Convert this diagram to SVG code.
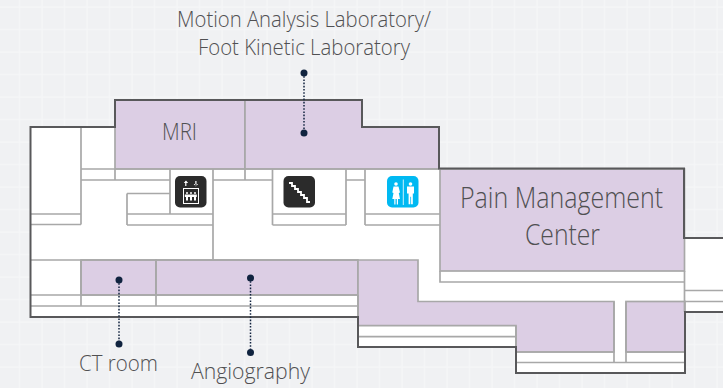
<svg xmlns="http://www.w3.org/2000/svg" width="723" height="388" viewBox="0 0 723 388">
<style>
.r{fill:#dccee4;stroke:#a8a8a8;stroke-width:1.700}
.w{fill:none;stroke:#a8a8a8;stroke-width:1.700}
.o{fill:none;stroke:#58585a;stroke-width:2}
.t{font-family:"Open Sans","Noto Sans",sans-serif;font-weight:300;fill:#505052;text-anchor:middle}
.c{stroke:#10233f;stroke-width:1.500;stroke-dasharray:1.600 1.600;fill:none}
.d{fill:#10233f}
.ic{fill:#fff}
</style>
<defs>
<pattern id="g" width="22.5" height="22.5" patternUnits="userSpaceOnUse" x="8.500" y="-4">
<rect width="22.5" height="22.5" fill="#f0f1f3"/>
<path d="M11 0V22.5M0 11H22.5" stroke="#f5f6f7" stroke-width="1.500" fill="none"/>
</pattern>
</defs>
<rect width="723" height="388" fill="url(#g)"/>
<path id="floor" fill="#fff" d="M30.500 127H115V100H362V127H439V169H684V238H723V312H685V373H516V347H358V317H30.500Z"/>
<g id="room-mri"><path class="r" d="M115 127V100H245V169H115Z"/><text class="t" x="179.500" y="140" font-size="23" textLength="35" lengthAdjust="spacingAndGlyphs">MRI</text></g>
<g id="room-motion-analysis"><path class="r" d="M245 100H362V127H439V169H245Z"/></g>
<g id="room-pain-management"><rect class="r" x="440" y="169" width="244.500" height="102"/><text class="t" x="561.500" y="208" font-size="29" textLength="203" lengthAdjust="spacingAndGlyphs">Pain Management</text><text class="t" x="562.500" y="245" font-size="29" textLength="75" lengthAdjust="spacingAndGlyphs">Center</text></g>
<g id="room-ct"><rect class="r" x="81" y="260" width="75" height="35"/></g>
<g id="room-angiography"><rect class="r" x="156" y="260" width="202" height="35"/></g>
<g id="room-east"><path class="r" d="M358 260H418V301.500H614V352H516V325.700H358Z"/></g>
<g id="room-far-east"><rect class="r" x="626" y="301.500" width="59" height="50.500"/></g>
<g id="walls">
<path class="w" d="M81 127V224.500M30.500 214H81M30.500 224.500H81M81 169V180M81 180H170M115 169V180M245 169V180M170 169V214M127 193.500H170M127 193.500V225M127 214H213M127 225H213V169M213 225V260M213 180H272.500M272.500 169V225M346 169V225M272.500 214H346M272.500 225H346M346 180H365M365 169V225M365 214H440M365 225H440M81 169H440M440 271V282H684.500M684.500 271V312M30.500 260H358M81 260V306M156 260V306M30.500 295H358M30.500 306H358M358 295V317M358 325.700V347M358 336.700H516M516 325.700V373M516 352H614M516 362.500H685M614 301.500V362.500M626 301.500V362.500M626 352H685M685 290.500H723M685 301.500H723"/>
</g>
<path id="outline" class="o" d="M723 238H684V168.500H439V127H362V100H115V127H30.500V317H358V347H516V373H685V312H723"/>
<g id="icon-elevator">
<rect x="175" y="176" width="31.500" height="31.500" rx="5" fill="#2b2b2b"/>
<path class="ic" d="M185.200 181h1.200v5h-1.200zM183.800 183l2.200-2.500 2.200 2.500zM195.300 181h1.200v5h-1.200zM193.700 184l2.200 2.500 2.200-2.500z"/>
<rect x="183.500" y="188.500" width="15" height="15" fill="none" stroke="#fff" stroke-width="1"/>
<circle class="ic" cx="187" cy="193" r="1"/><circle class="ic" cx="191" cy="193" r="1"/><circle class="ic" cx="195" cy="193" r="1"/>
<path class="ic" d="M186 194.500h2v6h-2zM190 194.500h2v6h-2zM194 194.500h2v6h-2zM184.800 194.500h12v2.500h-12z"/>
</g>
<g id="icon-stairs">
<rect x="283.500" y="176" width="31.500" height="31.500" rx="5" fill="#2b2b2b"/>
<path d="M289 183H292V186H295V189H298V192H301V195H304V198H307V202H310" fill="none" stroke="#fff" stroke-width="1.800"/>
</g>
<g id="icon-restroom">
<rect x="387" y="176" width="31.500" height="31.500" rx="5" fill="#00b9f2"/>
<path d="M403.300 179.500V205" stroke="#fff" stroke-width="0.800" fill="none"/>
<circle class="ic" cx="396" cy="184" r="1.800"/>
<path class="ic" d="M393.500 186.500h5l1.500 6-1.200.4 1.200 6h-2v5.500h-1.200v-5.500h-1.300v5.500h-1.200v-5.500h-2l1.200-6-1.200-.4z"/>
<circle class="ic" cx="410.500" cy="184" r="1.800"/>
<path class="ic" d="M407 186.500h7v7h-1.200v10.800h-1.700v-7.500h-.8v7.500h-1.700V193.500H407z"/>
</g>
<g id="connectors">
<path class="c" d="M304 73V133"/><circle class="d" cx="304" cy="73" r="3.500"/><circle class="d" cx="304" cy="133" r="3.500"/>
<path class="c" d="M119 280V344"/><circle class="d" cx="119" cy="280" r="3.500"/><circle class="d" cx="119" cy="344" r="3.500"/>
<path class="c" d="M250.500 278V352.500"/><circle class="d" cx="250.500" cy="278" r="3.500"/><circle class="d" cx="250.500" cy="352.500" r="3.500"/>
</g>
<g id="labels">
<text class="t" x="304" y="27" font-size="22.500" textLength="254" lengthAdjust="spacingAndGlyphs">Motion Analysis Laboratory/</text>
<text class="t" x="304" y="55" font-size="22.500" textLength="212" lengthAdjust="spacingAndGlyphs">Foot Kinetic Laboratory</text>
<text class="t" x="118.500" y="371" font-size="22.500" textLength="79" lengthAdjust="spacingAndGlyphs">CT room</text>
<text class="t" x="250.500" y="378.500" font-size="22.500" textLength="119" lengthAdjust="spacingAndGlyphs">Angiography</text>
</g>
</svg>
